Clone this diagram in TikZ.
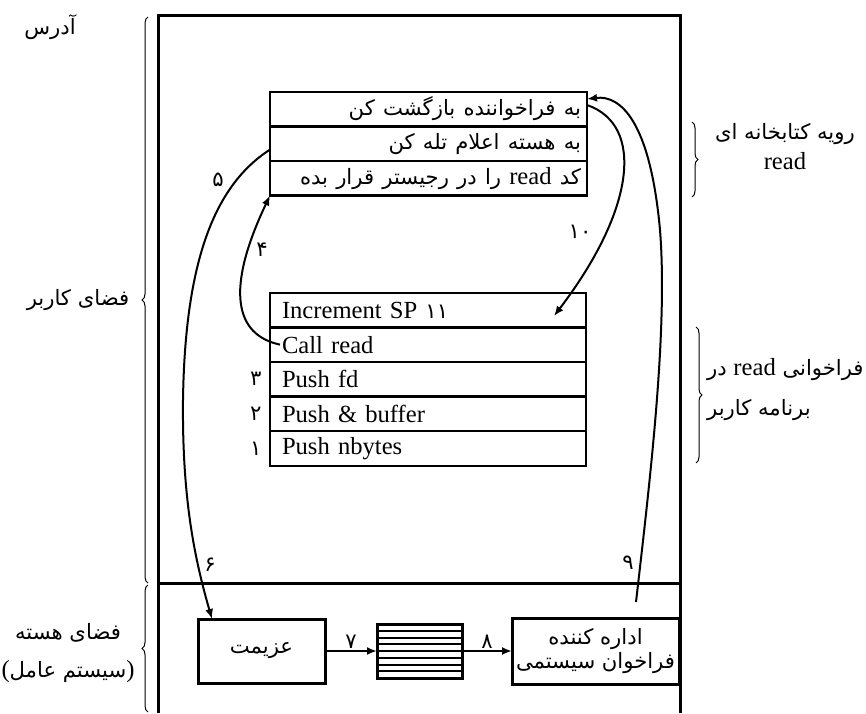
\documentclass[tikz,border=0pt]{standalone}
\usepackage{fontspec}
\setmainfont{Liberation Serif}
\newfontfamily\farsi[Script=Arabic,Scale=0.86]{DejaVu Sans}
\TeXXeTstate=1
\usetikzlibrary{arrows.meta,positioning,calc,decorations.pathreplacing}
\newcommand{\fa}[1]{{\farsi\beginR #1\endR}}

\begin{document}
\begin{tikzpicture}[x=0.5pt,y=-0.5pt,
  font=\fontsize{12.3}{15}\selectfont,
  frame/.style={line width=1.5pt},
  cell/.style={draw,line width=1.2pt,minimum height=17.3pt,inner ysep=0pt,outer sep=0pt},
  facell/.style={cell,inner xsep=3pt,text width=152.5pt,align=right},
  encell/.style={cell,inner xsep=6pt,text width=146pt,align=left},
  box/.style={draw,line width=1.5pt,align=center,inner sep=2pt,outer sep=0pt},
  num/.style={inner sep=1pt},
  arr/.style={-{Latex[length=5pt,width=4pt]},line width=1pt},
  curly/.style={decorate,decoration={brace,amplitude=3pt},line width=0.5pt}
]
\useasboundingbox (0,0) rectangle (866,713);
% memory frame
\draw[frame] (158,713) -- (158,15) -- (680,15) -- (680,713);
\draw[frame] (158,583) -- (680,583);

% library procedure
\node[facell] (lib1) at (428.5,109) {\fa{به فراخواننده بازگشت کن}};
\node[facell,below=0pt of lib1] (lib2) {\fa{به هسته اعلام تله کن}};
\node[facell,below=0pt of lib2] (lib3) {\fa{کد {\rmfamily read} را در رجیستر قرار بده}};

% user program
\node[encell] (inc) at (428,310) {Increment SP {\farsi ۱۱}};
\node[encell,below=0pt of inc] (call) {Call read};
\node[encell,below=0pt of call] (pfd) {Push fd};
\node[encell,below=0pt of pfd] (pbuf) {Push \& buffer};
\node[encell,below=0pt of pbuf] (pnb) {Push nbytes};
\node[num,left=3pt of pfd] (n3) {\fa{۳}};
\node[num,left=3pt of pbuf] (n2) {\fa{۲}};
\node[num,left=3pt of pnb] (n1) {\fa{۱}};

% kernel
\node[box,minimum width=63.5pt,minimum height=32pt] (disp) at (261.5,651) {\fa{عزیمت}};
\node[box,minimum width=42.5pt,minimum height=27pt,right=26pt of disp] (queue) {};
\foreach \k in {1,...,7}
  \draw[line width=1pt] ($(queue.north west)!\k/8!(queue.south west)$) -- ($(queue.north east)!\k/8!(queue.south east)$);
\node[box,minimum width=82pt,minimum height=33pt,right=25pt of queue] (handler) {\fa{اداره کننده}\\[-3pt]\fa{فراخوان سیستمی}};
\draw[arr] (disp) -- node[above,num] (n7) {\fa{۷}} (queue);
\draw[arr] (queue) -- node[above,num] (n8) {\fa{۸}} (handler);

% control flow
\draw[arr] ([xshift=5pt]call.west) .. controls (235,335) and (225,290) .. (lib3.south west);
\draw[arr] ([yshift=-3pt]lib2.west) .. controls (215,185) and (185,260) .. (183,400)
  .. controls (182,500) and (195,560) .. ([xshift=7pt]disp.north west);
\draw[arr] ([yshift=2pt]lib1.east) .. controls (645,125) and (635,210) .. ([xshift=-16pt,yshift=-3pt]inc.east);
\coordinate (c9) at (636,602);
\draw[arr] (c9) .. controls (650,480) and (668,330) .. (660,230)
  .. controls (650,120) and (620,95) .. ([yshift=5pt]lib1.east);
\node[num] (n4) at (262,250) {\fa{۴}};
\node[num] (n5) at (218,180) {\fa{۵}};
\node[num] (n6) at (210,565) {\fa{۶}};
\node[num] (n9) at (628,563) {\fa{۹}};
\node[num] (n10) at (580,232) {\fa{۱۰}};

% braces and labels
\draw[curly] (148,583) -- (148,17);
\draw[curly] (148,712) -- (148,585);
\draw[curly] (692,122) -- (692,197);
\draw[curly] (696,327) -- (696,463);
\node (addr) at (50,27) {\fa{آدرس}};
\node (user) at (78,300) {\fa{فضای کاربر}};
\node[align=center] (kern) at (68,653) {\fa{فضای هسته}\\[4pt](\fa{سیستم عامل})};
\node[anchor=west,align=center] (lblib) at (708,147) {\fa{رویه کتابخانه ای}\\read};
\node[anchor=east,align=left,inner xsep=1pt] (lbcall) at (866,390) {\fa{فراخوانی {\rmfamily read} در}\\[5pt]\fa{برنامه کاربر}};
\end{tikzpicture}
\end{document}
